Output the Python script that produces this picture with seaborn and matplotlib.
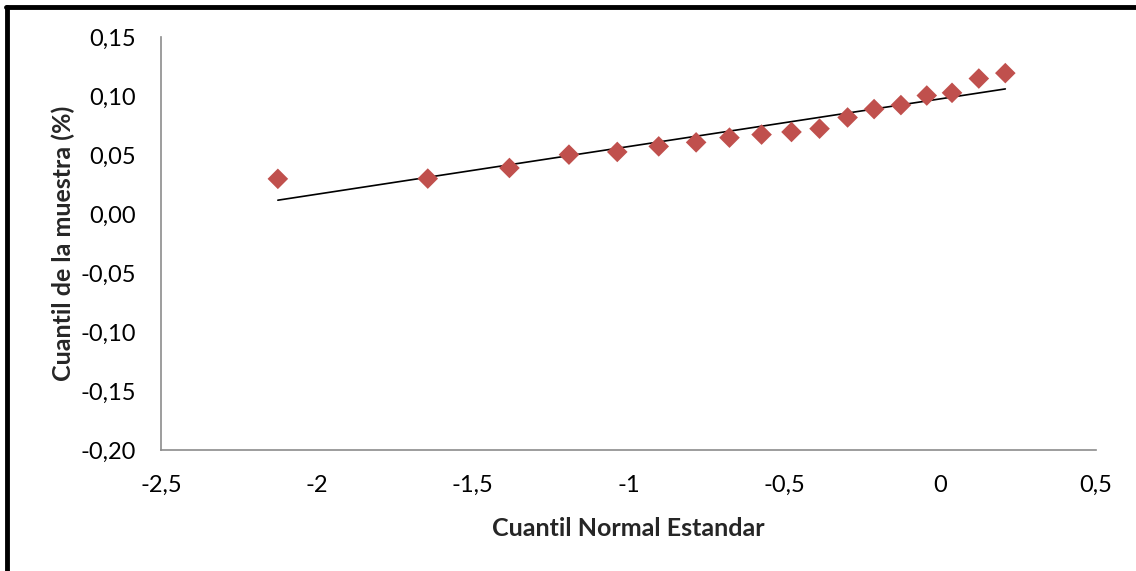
import matplotlib
matplotlib.use("Agg")
import matplotlib.pyplot as plt
import matplotlib.ticker as mticker
from matplotlib.lines import Line2D
import seaborn as sns
import pandas as pd

# Data
cuantil_normal = [-2.125, -1.644, -1.382, -1.191, -1.036, -0.903, -0.783, -0.676, -0.573,
                  -0.477, -0.387, -0.297, -0.212, -0.126, -0.043, 0.038, 0.124, 0.209]
cuantil_muestra = [0.0298, 0.0300, 0.0390, 0.0503, 0.0526, 0.0573, 0.0607, 0.0647, 0.0673,
                   0.0695, 0.0723, 0.0818, 0.0889, 0.0923, 0.1004, 0.1027, 0.1148, 0.1194]
trend_x = [-2.125, 0.209]
trend_y = [0.0117, 0.1060]

x_ticks = [-2.5, -2, -1.5, -1, -0.5, 0, 0.5]
y_ticks = [-0.20, -0.15, -0.10, -0.05, 0.00, 0.05, 0.10, 0.15]

sns.set_theme(style="white")
plt.rcParams['font.family'] = ['Lato', 'DejaVu Sans']

fig = plt.figure(figsize=(11.36, 5.71), dpi=100)
ax = fig.add_axes([0.1417, 0.2119, 0.9648 - 0.1417, 0.9352 - 0.2119])

df = pd.DataFrame({"x": cuantil_normal, "y": cuantil_muestra})
tr = pd.DataFrame({"x": trend_x, "y": trend_y})

sns.lineplot(data=tr, x="x", y="y", ax=ax, color="black", linewidth=1.2)
sns.scatterplot(data=df, x="x", y="y", ax=ax, marker="D", s=110, color="#C0504D",
                edgecolor="none", zorder=3)

ax.set_xlim(-2.5, 0.5)
ax.set_ylim(-0.20, 0.15)
ax.set_xticks(x_ticks)
ax.set_yticks(y_ticks)


def fmt_x(v, pos):
    s = f"{v:g}"
    return s.replace(".", ",")


def fmt_y(v, pos):
    return f"{v:.2f}".replace(".", ",")


ax.xaxis.set_major_formatter(mticker.FuncFormatter(fmt_x))
ax.yaxis.set_major_formatter(mticker.FuncFormatter(fmt_y))
ax.tick_params(axis="both", labelsize=17, colors="black", length=0)
ax.tick_params(axis="x", pad=18)
ax.tick_params(axis="y", pad=18)

for side in ["top", "right"]:
    ax.spines[side].set_visible(False)
for side in ["left", "bottom"]:
    ax.spines[side].set_color("#8c8c8c")
    ax.spines[side].set_linewidth(1.2)

ax.set_xlabel("Cuantil Normal Estandar", fontsize=18, fontweight="bold", labelpad=15)
ax.set_ylabel("Cuantil de la muestra (%)", fontsize=18, fontweight="bold", labelpad=4)
ax.grid(False)

# Outer frame (left and top black border)
fig.add_artist(Line2D([7 / 1136, 7 / 1136], [0, 1 - 7 / 571], transform=fig.transFigure,
                      color="black", linewidth=3.5))
fig.add_artist(Line2D([5.5 / 1136, 1], [1 - 7 / 571, 1 - 7 / 571], transform=fig.transFigure,
                      color="black", linewidth=3.5))

fig.savefig("out.png", dpi=100)
